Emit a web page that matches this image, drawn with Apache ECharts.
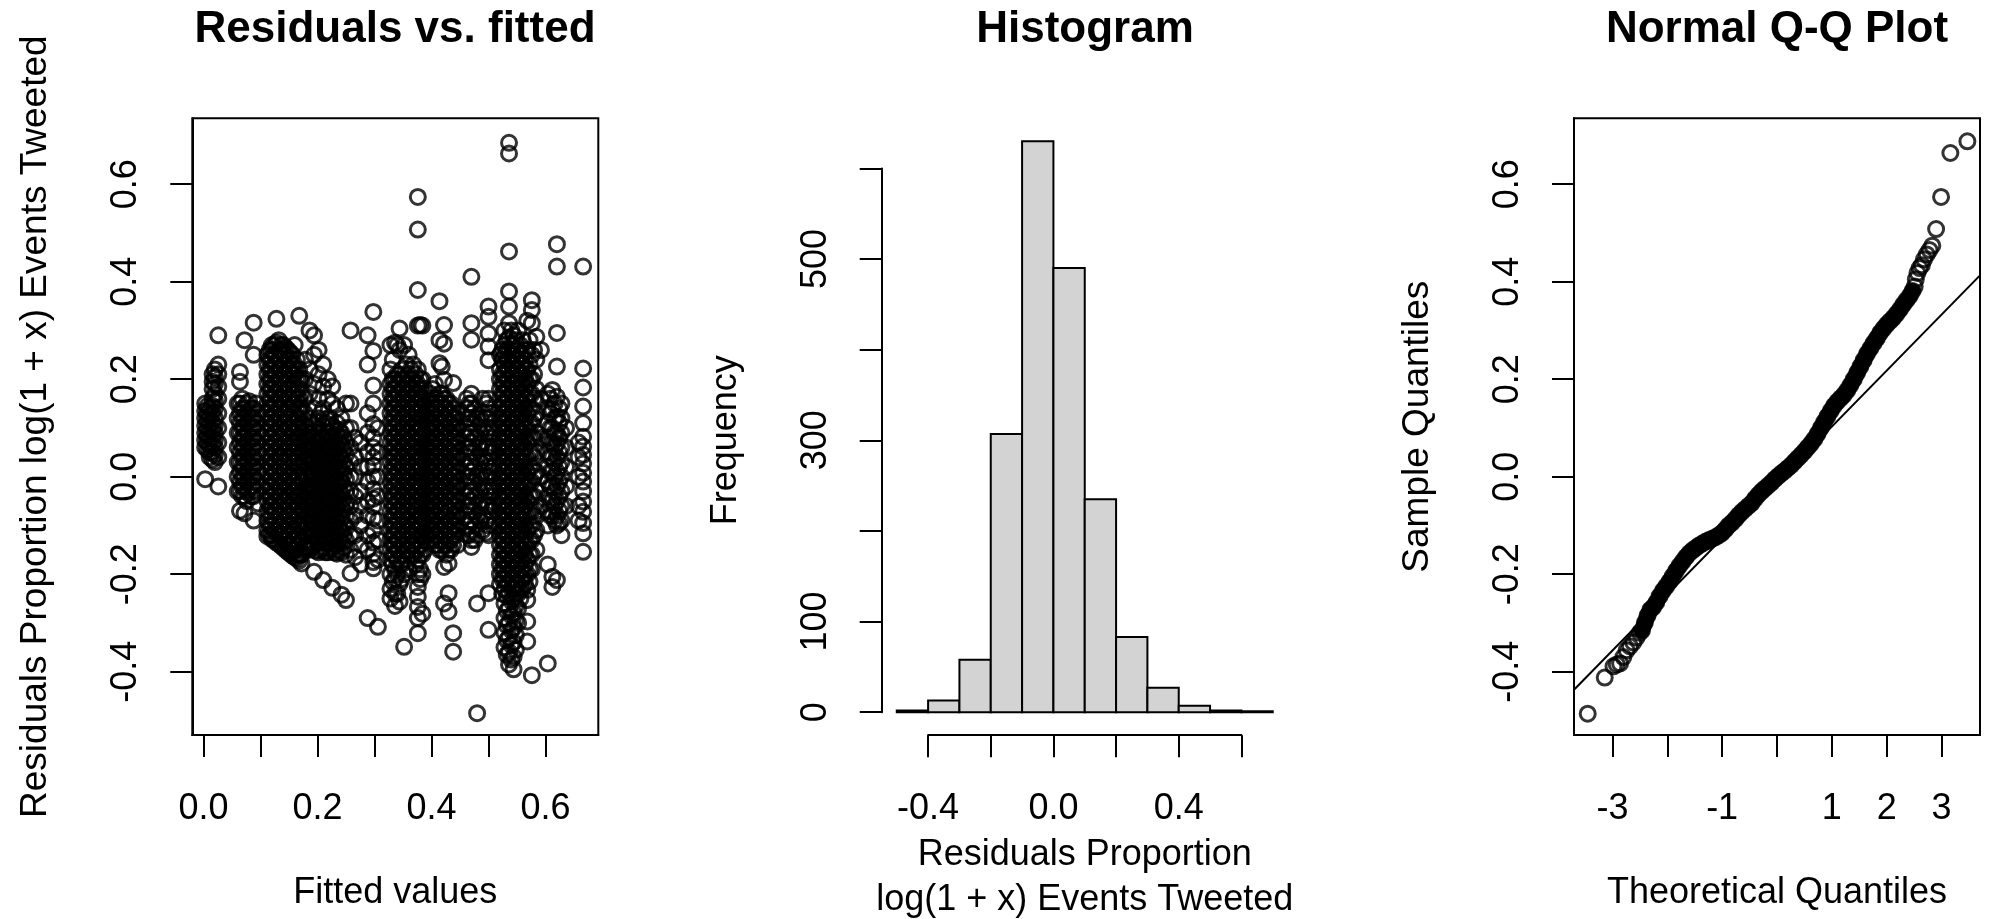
<!DOCTYPE html>
<html>
<head>
<meta charset="utf-8">
<script src="https://cdn.jsdelivr.net/npm/echarts@6/dist/echarts.min.js"></script>
<style>
  html, body { margin: 0; padding: 0; background: #fff; }
  #chart { width: 1991px; height: 919px; }
</style>
</head>
<body>
<div id="chart"></div>
<script>
const FONT = "'Liberation Sans', Arial, sans-serif";
const INK = "#000";

// residuals vs fitted, read column by column: [fitted, [residuals]]
const clusterA = [
  [0.003, [0.15, 0.135, 0.12, 0.105, 0.09, 0.075, 0.06, -0.005]],
  [0.007, [0.145, 0.13, 0.115, 0.1, 0.085, 0.07, 0.055]],
  [0.011, [0.14, 0.125, 0.11, 0.095, 0.08, 0.065, 0.05, 0.04]],
  [0.016, [0.21, 0.195, 0.18, 0.16, 0.145, 0.13, 0.11, 0.095, 0.08, 0.065, 0.05, 0.035]],
  [0.02, [0.22, 0.205, 0.19, 0.17, 0.155, 0.14, 0.12, 0.105, 0.09, 0.075, 0.06, 0.045, 0.03]],
  [0.026, [0.29, 0.23, 0.21, 0.185, 0.16, 0.13, 0.1, 0.07, 0.04, -0.02]]
];
const clusterB = [
  [0.06, [0.15, 0.12, 0.09, 0.06, 0.03, 0.0, -0.03]],
  [0.064, [0.215, 0.195, 0.15, 0.13, 0.11, 0.09, 0.07, 0.05, 0.03, 0.01, -0.01, -0.03, -0.07]],
  [0.068, [0.16, 0.14, 0.12, 0.1, 0.08, 0.06, 0.04, 0.02, 0.0, -0.02, -0.04]],
  [0.072, [0.28, 0.14, 0.12, 0.1, 0.08, 0.06, 0.04, 0.02, 0.0, -0.02, -0.04, -0.075]],
  [0.076, [0.15, 0.13, 0.11, 0.09, 0.07, 0.05, 0.03, 0.01, -0.01, -0.03, -0.05]],
  [0.08, [0.155, 0.135, 0.115, 0.095, 0.075, 0.055, 0.035, 0.015, -0.005, -0.025]],
  [0.084, [0.14, 0.12, 0.1, 0.08, 0.06, 0.04, 0.02, 0.0, -0.02, -0.04]],
  [0.088, [0.316, 0.25, 0.14, 0.12, 0.1, 0.08, 0.06, 0.04, 0.02, 0.0, -0.02, -0.04, -0.09]],
  [0.092, [0.15, 0.11, 0.07, 0.03, -0.01, -0.03]],
  [0.096, [0.13, 0.09, 0.05, 0.01, -0.055]]
];
const clusterC = [
  [0.112, [0.25, 0.23, 0.21, 0.19, 0.17, 0.15, 0.13, 0.11, 0.09, 0.07, 0.05, 0.03, 0.01, -0.01, -0.03, -0.05, -0.07, -0.09, -0.11, -0.122]],
  [0.116, [0.26, 0.24, 0.22, 0.2, 0.18, 0.16, 0.14, 0.12, 0.1, 0.08, 0.06, 0.04, 0.02, 0.0, -0.02, -0.04, -0.06, -0.08, -0.1, -0.12]],
  [0.12, [0.27, 0.26, 0.24, 0.22, 0.2, 0.18, 0.16, 0.14, 0.12, 0.1, 0.08, 0.06, 0.04, 0.02, 0.0, -0.02, -0.04, -0.06, -0.08, -0.1, -0.12, -0.128]],
  [0.124, [0.27, 0.25, 0.23, 0.21, 0.19, 0.17, 0.15, 0.13, 0.11, 0.09, 0.07, 0.05, 0.03, 0.01, -0.01, -0.03, -0.05, -0.07, -0.09, -0.11, -0.13]],
  [0.128, [0.324, 0.275, 0.25, 0.23, 0.21, 0.19, 0.17, 0.15, 0.13, 0.11, 0.09, 0.07, 0.05, 0.03, 0.01, -0.01, -0.03, -0.05, -0.07, -0.09, -0.11, -0.135]],
  [0.132, [0.28, 0.26, 0.24, 0.22, 0.2, 0.18, 0.16, 0.14, 0.12, 0.1, 0.08, 0.06, 0.04, 0.02, 0.0, -0.02, -0.04, -0.06, -0.08, -0.1, -0.12, -0.138]],
  [0.136, [0.27, 0.26, 0.24, 0.22, 0.2, 0.18, 0.16, 0.14, 0.12, 0.1, 0.08, 0.06, 0.04, 0.02, 0.0, -0.02, -0.04, -0.06, -0.08, -0.1, -0.12, -0.142]],
  [0.14, [0.27, 0.25, 0.23, 0.21, 0.19, 0.17, 0.15, 0.13, 0.11, 0.09, 0.07, 0.05, 0.03, 0.01, -0.01, -0.03, -0.05, -0.07, -0.09, -0.11, -0.13, -0.146]],
  [0.144, [0.265, 0.25, 0.23, 0.21, 0.19, 0.17, 0.15, 0.13, 0.11, 0.09, 0.07, 0.05, 0.03, 0.01, -0.01, -0.03, -0.05, -0.07, -0.09, -0.11, -0.13, -0.15]],
  [0.148, [0.26, 0.24, 0.22, 0.2, 0.18, 0.16, 0.14, 0.12, 0.1, 0.08, 0.06, 0.04, 0.02, 0.0, -0.02, -0.04, -0.06, -0.08, -0.1, -0.12, -0.14, -0.154]],
  [0.152, [0.255, 0.24, 0.22, 0.2, 0.18, 0.16, 0.14, 0.12, 0.1, 0.08, 0.06, 0.04, 0.02, 0.0, -0.02, -0.04, -0.06, -0.08, -0.1, -0.12, -0.14, -0.158]],
  [0.156, [0.25, 0.23, 0.21, 0.19, 0.17, 0.15, 0.13, 0.11, 0.09, 0.07, 0.05, 0.03, 0.01, -0.01, -0.03, -0.05, -0.07, -0.09, -0.11, -0.13, -0.15, -0.162]],
  [0.16, [0.27, 0.23, 0.21, 0.19, 0.17, 0.15, 0.13, 0.11, 0.09, 0.07, 0.05, 0.03, 0.01, -0.01, -0.03, -0.05, -0.07, -0.09, -0.11, -0.13, -0.15, -0.165]],
  [0.164, [0.24, 0.22, 0.2, 0.18, 0.16, 0.14, 0.12, 0.1, 0.08, 0.06, 0.04, 0.02, 0.0, -0.02, -0.04, -0.06, -0.08, -0.1, -0.12, -0.14, -0.16, -0.168]],
  [0.168, [0.33, 0.22, 0.2, 0.18, 0.16, 0.14, 0.12, 0.1, 0.08, 0.06, 0.04, 0.02, 0.0, -0.02, -0.04, -0.06, -0.08, -0.1, -0.12, -0.14, -0.16, -0.172]],
  [0.172, [0.2, 0.17, 0.14, 0.11, 0.08, 0.05, 0.02, -0.01, -0.04, -0.07, -0.1, -0.13, -0.16, -0.178]]
];
const clusterD = [
  [0.178, [0.24, 0.2, 0.16, 0.13, 0.105, 0.08, 0.055, 0.03, 0.005, -0.02, -0.045, -0.07, -0.095, -0.12, -0.145]],
  [0.182, [0.09, 0.07, 0.045, 0.02, -0.005, -0.03, -0.055, -0.08, -0.105, -0.13, -0.148]],
  [0.186, [0.3, 0.22, 0.17, 0.12, 0.09, 0.065, 0.04, 0.015, -0.01, -0.035, -0.06, -0.085, -0.11, -0.135, -0.15]],
  [0.19, [0.11, 0.08, 0.055, 0.03, 0.005, -0.02, -0.045, -0.07, -0.095, -0.12, -0.145]],
  [0.194, [0.29, 0.25, 0.19, 0.14, 0.105, 0.08, 0.055, 0.03, 0.005, -0.02, -0.045, -0.07, -0.095, -0.12, -0.14, -0.195]],
  [0.198, [0.1, 0.07, 0.045, 0.02, -0.005, -0.03, -0.055, -0.08, -0.105, -0.13, -0.152]],
  [0.202, [0.26, 0.21, 0.16, 0.12, 0.09, 0.065, 0.04, 0.015, -0.01, -0.035, -0.06, -0.085, -0.11, -0.135, -0.155]],
  [0.206, [0.13, 0.08, 0.055, 0.03, 0.005, -0.02, -0.045, -0.07, -0.095, -0.12, -0.15]],
  [0.21, [0.23, 0.185, 0.14, 0.105, 0.08, 0.055, 0.03, 0.005, -0.02, -0.045, -0.07, -0.095, -0.12, -0.145, -0.212]],
  [0.214, [0.11, 0.07, 0.045, 0.02, -0.005, -0.03, -0.055, -0.08, -0.105, -0.13, -0.155]],
  [0.218, [0.2, 0.16, 0.12, 0.09, 0.065, 0.04, 0.015, -0.01, -0.035, -0.06, -0.085, -0.11, -0.135, -0.155]],
  [0.222, [0.12, 0.09, 0.055, 0.03, 0.005, -0.02, -0.045, -0.07, -0.095, -0.12, -0.15]],
  [0.226, [0.185, 0.15, 0.105, 0.08, 0.055, 0.03, 0.005, -0.02, -0.045, -0.07, -0.095, -0.12, -0.145, -0.228]],
  [0.23, [0.1, 0.07, 0.045, 0.02, -0.005, -0.03, -0.055, -0.08, -0.105, -0.13, -0.155]],
  [0.234, [0.14, 0.11, 0.085, 0.06, 0.035, 0.01, -0.015, -0.04, -0.065, -0.09, -0.115, -0.14, -0.158]],
  [0.238, [0.095, 0.07, 0.045, 0.02, -0.005, -0.03, -0.055, -0.08, -0.105, -0.13, -0.15]],
  [0.242, [0.12, 0.09, 0.065, 0.04, 0.015, -0.01, -0.035, -0.06, -0.085, -0.11, -0.135, -0.155, -0.242]],
  [0.246, [0.08, 0.055, 0.03, 0.005, -0.02, -0.045, -0.07, -0.095, -0.12, -0.145]],
  [0.25, [0.15, 0.1, 0.07, 0.045, 0.02, -0.005, -0.03, -0.055, -0.08, -0.105, -0.13, -0.16, -0.253]],
  [0.258, [0.3, 0.15, 0.1, 0.06, 0.03, 0.0, -0.03, -0.06, -0.09, -0.12, -0.15, -0.198]],
  [0.266, [0.08, 0.04, 0.0, -0.04, -0.08, -0.12, -0.165]],
  [0.276, [0.07, 0.02, -0.03, -0.06, -0.1, -0.14, -0.18]],
  [0.288, [0.29, 0.23, 0.13, 0.09, 0.05, 0.02, -0.01, -0.05, -0.08, -0.12, -0.15, -0.29]],
  [0.298, [0.338, 0.258, 0.187, 0.15, 0.108, 0.08, 0.06, 0.04, 0.023, 0.0, -0.025, -0.045, -0.061, -0.085, -0.11, -0.135, -0.158, -0.175, -0.188]],
  [0.306, [0.1, 0.05, 0.0, -0.04, -0.09, -0.13, -0.17, -0.308]]
];
const clusterE = [
  [0.328, [0.27, 0.22, 0.19, 0.17, 0.15, 0.13, 0.11, 0.09, 0.07, 0.05, 0.03, 0.01, -0.01, -0.03, -0.05, -0.07, -0.09, -0.11, -0.13, -0.15, -0.17, -0.2, -0.23, -0.25]],
  [0.332, [0.24, 0.2, 0.18, 0.16, 0.14, 0.12, 0.1, 0.08, 0.06, 0.04, 0.02, 0.0, -0.02, -0.04, -0.06, -0.08, -0.1, -0.12, -0.14, -0.16, -0.18, -0.215]],
  [0.336, [0.275, 0.2, 0.18, 0.16, 0.14, 0.12, 0.1, 0.08, 0.06, 0.04, 0.02, 0.0, -0.02, -0.04, -0.06, -0.08, -0.1, -0.12, -0.14, -0.16, -0.19, -0.21, -0.24, -0.265]],
  [0.34, [0.27, 0.21, 0.19, 0.17, 0.15, 0.13, 0.11, 0.09, 0.07, 0.05, 0.03, 0.01, -0.01, -0.03, -0.05, -0.07, -0.09, -0.11, -0.13, -0.15, -0.17, -0.2, -0.24]],
  [0.344, [0.304, 0.26, 0.21, 0.19, 0.17, 0.15, 0.13, 0.11, 0.09, 0.07, 0.05, 0.03, 0.01, -0.01, -0.03, -0.05, -0.07, -0.09, -0.11, -0.13, -0.15, -0.18, -0.22, -0.256]],
  [0.348, [0.22, 0.2, 0.18, 0.16, 0.14, 0.12, 0.1, 0.08, 0.06, 0.04, 0.02, 0.0, -0.02, -0.04, -0.06, -0.08, -0.1, -0.12, -0.14, -0.16, -0.18, -0.21]],
  [0.352, [0.27, 0.2, 0.18, 0.16, 0.14, 0.12, 0.1, 0.08, 0.06, 0.04, 0.02, 0.0, -0.02, -0.04, -0.06, -0.08, -0.1, -0.12, -0.14, -0.16, -0.2, -0.349]],
  [0.356, [0.23, 0.19, 0.17, 0.15, 0.13, 0.11, 0.09, 0.07, 0.05, 0.03, 0.01, -0.01, -0.03, -0.05, -0.07, -0.09, -0.11, -0.13, -0.15, -0.17]],
  [0.36, [0.25, 0.21, 0.19, 0.17, 0.15, 0.13, 0.11, 0.09, 0.07, 0.05, 0.03, 0.01, -0.01, -0.03, -0.05, -0.07, -0.09, -0.11, -0.13, -0.15, -0.19]],
  [0.364, [0.22, 0.2, 0.18, 0.16, 0.14, 0.12, 0.1, 0.08, 0.06, 0.04, 0.02, 0.0, -0.02, -0.04, -0.06, -0.08, -0.1, -0.12, -0.14, -0.16]],
  [0.368, [0.23, 0.2, 0.18, 0.16, 0.14, 0.12, 0.1, 0.08, 0.06, 0.04, 0.02, 0.0, -0.02, -0.04, -0.06, -0.08, -0.1, -0.12, -0.14, -0.16]],
  [0.372, [0.21, 0.19, 0.17, 0.15, 0.13, 0.11, 0.09, 0.07, 0.05, 0.03, 0.01, -0.01, -0.03, -0.05, -0.07, -0.09, -0.11, -0.13, -0.15, -0.18]],
  [0.376, [0.574, 0.507, 0.383, 0.31, 0.22, 0.19, 0.17, 0.15, 0.13, 0.11, 0.09, 0.07, 0.05, 0.03, 0.01, -0.01, -0.03, -0.05, -0.07, -0.09, -0.11, -0.13, -0.15, -0.17, -0.2, -0.226, -0.246, -0.267, -0.29, -0.321]],
  [0.38, [0.311, 0.2, 0.18, 0.16, 0.14, 0.12, 0.1, 0.08, 0.06, 0.04, 0.02, 0.0, -0.02, -0.04, -0.06, -0.08, -0.1, -0.12, -0.14, -0.16, -0.19, -0.21]],
  [0.384, [0.31, 0.2, 0.16, 0.12, 0.08, 0.04, 0.0, -0.04, -0.08, -0.12, -0.16, -0.2, -0.281]],
  [0.388, [0.18, 0.15, 0.12, 0.09, 0.06, 0.03, 0.0, -0.03, -0.06, -0.09, -0.12, -0.15]]
];
const clusterF = [
  [0.394, [0.16, 0.14, 0.12, 0.1, 0.08, 0.06, 0.04, 0.02, 0.0, -0.02, -0.04, -0.06, -0.08, -0.1, -0.12]],
  [0.398, [0.17, 0.15, 0.13, 0.11, 0.09, 0.07, 0.05, 0.03, 0.01, -0.01, -0.03, -0.05, -0.07, -0.09, -0.11, -0.13]],
  [0.402, [0.18, 0.15, 0.13, 0.11, 0.09, 0.07, 0.05, 0.03, 0.01, -0.01, -0.03, -0.05, -0.07, -0.09, -0.11, -0.13]],
  [0.406, [0.19, 0.16, 0.14, 0.12, 0.1, 0.08, 0.06, 0.04, 0.02, 0.0, -0.02, -0.04, -0.06, -0.08, -0.1, -0.12, -0.14]],
  [0.41, [0.16, 0.14, 0.12, 0.1, 0.08, 0.06, 0.04, 0.02, 0.0, -0.02, -0.04, -0.06, -0.08, -0.1, -0.12, -0.14]],
  [0.414, [0.36, 0.28, 0.233, 0.17, 0.15, 0.13, 0.11, 0.09, 0.07, 0.05, 0.03, 0.01, -0.01, -0.03, -0.05, -0.07, -0.09, -0.11, -0.13, -0.15]],
  [0.418, [0.226, 0.17, 0.15, 0.13, 0.11, 0.09, 0.07, 0.05, 0.03, 0.01, -0.01, -0.03, -0.05, -0.07, -0.09, -0.11, -0.13, -0.15]],
  [0.422, [0.311, 0.273, 0.199, 0.16, 0.14, 0.12, 0.1, 0.08, 0.06, 0.04, 0.02, 0.0, -0.02, -0.04, -0.06, -0.08, -0.1, -0.12, -0.14, -0.185, -0.26]],
  [0.426, [0.16, 0.14, 0.12, 0.1, 0.08, 0.06, 0.04, 0.02, 0.0, -0.02, -0.04, -0.06, -0.08, -0.1, -0.12, -0.14, -0.16]],
  [0.43, [0.15, 0.13, 0.11, 0.09, 0.07, 0.05, 0.03, 0.01, -0.01, -0.03, -0.05, -0.07, -0.09, -0.11, -0.13, -0.15, -0.178, -0.239, -0.277]],
  [0.434, [0.15, 0.13, 0.11, 0.09, 0.07, 0.05, 0.03, 0.01, -0.01, -0.03, -0.05, -0.07, -0.09, -0.11, -0.13, -0.15]],
  [0.438, [0.192, 0.14, 0.12, 0.1, 0.08, 0.06, 0.04, 0.02, 0.0, -0.02, -0.04, -0.06, -0.08, -0.1, -0.12, -0.14, -0.321, -0.359]],
  [0.442, [0.12, 0.1, 0.08, 0.06, 0.04, 0.02, 0.0, -0.02, -0.04, -0.06, -0.08, -0.1, -0.12]],
  [0.446, [0.13, 0.1, 0.07, 0.04, 0.01, -0.02, -0.05, -0.08, -0.11, -0.14]]
];
const clusterG = [
  [0.462, [0.16, 0.14, 0.12, 0.1, 0.08, 0.06, 0.04, 0.02, 0.0, -0.02, -0.04, -0.06, -0.08, -0.1, -0.12]],
  [0.466, [0.15, 0.12, 0.09, 0.06, 0.03, 0.0, -0.03, -0.06, -0.09, -0.12]],
  [0.47, [0.41, 0.315, 0.281, 0.17, 0.15, 0.13, 0.11, 0.09, 0.07, 0.05, 0.03, 0.01, -0.01, -0.03, -0.05, -0.07, -0.09, -0.11, -0.13, -0.144]],
  [0.476, [0.14, 0.11, 0.08, 0.05, 0.02, -0.01, -0.04, -0.07, -0.1, -0.13]],
  [0.48, [0.12, 0.08, 0.04, 0.0, -0.04, -0.08, -0.12, -0.26, -0.485]],
  [0.486, [0.12, 0.09, 0.06, 0.03, 0.0, -0.03, -0.06, -0.09]],
  [0.49, [0.16, 0.13, 0.1, 0.07, 0.04, 0.01, -0.02, -0.05, -0.08, -0.11]],
  [0.496, [0.15, 0.12, 0.09, 0.06, 0.03, 0.0, -0.03, -0.06, -0.09, -0.115]],
  [0.5, [0.349, 0.328, 0.294, 0.267, 0.239, 0.16, 0.14, 0.12, 0.1, 0.08, 0.06, 0.04, 0.02, 0.0, -0.02, -0.04, -0.06, -0.08, -0.1, -0.12, -0.239, -0.314]],
  [0.504, [0.13, 0.09, 0.05, 0.01, -0.03, -0.07]],
  [0.508, [0.1, 0.06, 0.02, -0.02, -0.06, -0.1]]
];
const clusterH = [
  [0.52, [0.25, 0.22, 0.2, 0.18, 0.16, 0.14, 0.12, 0.1, 0.08, 0.06, 0.04, 0.02, 0.0, -0.02, -0.04, -0.06, -0.08, -0.1, -0.12, -0.14, -0.16, -0.18, -0.2, -0.22]],
  [0.524, [0.26, 0.24, 0.21, 0.19, 0.17, 0.15, 0.13, 0.11, 0.09, 0.07, 0.05, 0.03, 0.01, -0.01, -0.03, -0.05, -0.07, -0.09, -0.11, -0.13, -0.15, -0.17, -0.19, -0.21, -0.24]],
  [0.528, [0.3, 0.27, 0.25, 0.23, 0.21, 0.19, 0.17, 0.15, 0.13, 0.11, 0.09, 0.07, 0.05, 0.03, 0.01, -0.01, -0.03, -0.05, -0.07, -0.09, -0.11, -0.13, -0.15, -0.17, -0.19, -0.21, -0.23, -0.26, -0.29, -0.32, -0.35]],
  [0.532, [0.28, 0.26, 0.24, 0.22, 0.2, 0.18, 0.16, 0.14, 0.12, 0.1, 0.08, 0.06, 0.04, 0.02, 0.0, -0.02, -0.04, -0.06, -0.08, -0.1, -0.12, -0.14, -0.16, -0.18, -0.2, -0.22, -0.245, -0.275, -0.305, -0.335, -0.365]],
  [0.536, [0.685, 0.663, 0.462, 0.38, 0.349, 0.315, 0.285, 0.26, 0.24, 0.22, 0.2, 0.18, 0.16, 0.14, 0.12, 0.1, 0.08, 0.06, 0.04, 0.02, 0.0, -0.02, -0.04, -0.06, -0.08, -0.1, -0.12, -0.14, -0.16, -0.18, -0.2, -0.22, -0.24, -0.27, -0.3, -0.33, -0.36, -0.385]],
  [0.54, [0.3, 0.27, 0.25, 0.23, 0.21, 0.19, 0.17, 0.15, 0.13, 0.11, 0.09, 0.07, 0.05, 0.03, 0.01, -0.01, -0.03, -0.05, -0.07, -0.09, -0.11, -0.13, -0.15, -0.17, -0.19, -0.21, -0.23, -0.255, -0.285, -0.315, -0.345, -0.375]],
  [0.544, [0.29, 0.27, 0.25, 0.23, 0.21, 0.19, 0.17, 0.15, 0.13, 0.11, 0.09, 0.07, 0.05, 0.03, 0.01, -0.01, -0.03, -0.05, -0.07, -0.09, -0.11, -0.13, -0.15, -0.17, -0.19, -0.21, -0.23, -0.25, -0.28, -0.31, -0.34, -0.37, -0.395]],
  [0.548, [0.28, 0.26, 0.24, 0.22, 0.2, 0.18, 0.16, 0.14, 0.12, 0.1, 0.08, 0.06, 0.04, 0.02, 0.0, -0.02, -0.04, -0.06, -0.08, -0.1, -0.12, -0.14, -0.16, -0.18, -0.2, -0.22, -0.24, -0.265, -0.295, -0.325, -0.355]],
  [0.552, [0.3, 0.26, 0.24, 0.22, 0.2, 0.18, 0.16, 0.14, 0.12, 0.1, 0.08, 0.06, 0.04, 0.02, 0.0, -0.02, -0.04, -0.06, -0.08, -0.1, -0.12, -0.14, -0.16, -0.18, -0.2, -0.22, -0.24, -0.27, -0.3]],
  [0.556, [0.27, 0.25, 0.23, 0.21, 0.19, 0.17, 0.15, 0.13, 0.11, 0.09, 0.07, 0.05, 0.03, 0.01, -0.01, -0.03, -0.05, -0.07, -0.09, -0.11, -0.13, -0.15, -0.17, -0.19, -0.21, -0.23, -0.25]],
  [0.56, [0.28, 0.25, 0.23, 0.21, 0.19, 0.17, 0.15, 0.13, 0.11, 0.09, 0.07, 0.05, 0.03, 0.01, -0.01, -0.03, -0.05, -0.07, -0.09, -0.11, -0.13, -0.15, -0.17, -0.19, -0.21, -0.23]],
  [0.564, [0.26, 0.24, 0.22, 0.2, 0.18, 0.16, 0.14, 0.12, 0.1, 0.08, 0.06, 0.04, 0.02, 0.0, -0.02, -0.04, -0.06, -0.08, -0.1, -0.12, -0.14, -0.16, -0.18, -0.2, -0.22]],
  [0.568, [0.32, 0.26, 0.22, 0.19, 0.16, 0.13, 0.1, 0.07, 0.04, 0.01, -0.02, -0.05, -0.08, -0.11, -0.14, -0.17, -0.2, -0.232, -0.253, -0.297, -0.338]],
  [0.572, [0.28, 0.23, 0.2, 0.17, 0.14, 0.11, 0.08, 0.05, 0.02, -0.01, -0.04, -0.07, -0.1, -0.13, -0.16, -0.19, -0.215]],
  [0.576, [0.362, 0.342, 0.315, 0.25, 0.2, 0.17, 0.14, 0.11, 0.08, 0.05, 0.02, -0.01, -0.04, -0.07, -0.1, -0.13, -0.16, -0.19, -0.407]],
  [0.58, [0.26, 0.21, 0.16, 0.12, 0.08, 0.04, 0.0, -0.04, -0.08, -0.12]],
  [0.584, [0.287, 0.24, 0.18, 0.13, 0.09, 0.05, 0.01, -0.03, -0.07, -0.11, -0.15]],
  [0.592, [0.26, 0.16, 0.08, 0.0, -0.06]]
];
const clusterI = [
  [0.604, [0.17, 0.14, 0.11, 0.08, 0.05, 0.02, -0.01, -0.04, -0.07, -0.1, -0.18, -0.383]],
  [0.608, [0.16, 0.13, 0.1, 0.07, 0.04, 0.01, -0.02, -0.05, -0.08]],
  [0.612, [0.178, 0.137, 0.1, 0.07, 0.04, 0.01, -0.02, -0.05, -0.08, -0.205, -0.226]],
  [0.616, [0.15, 0.12, 0.09, 0.06, 0.03, 0.0, -0.03, -0.06, -0.09]],
  [0.62, [0.477, 0.431, 0.295, 0.226, 0.164, 0.123, 0.089, 0.068, 0.04, 0.01, -0.02, -0.05, -0.08, -0.1, -0.212]],
  [0.624, [0.14, 0.11, 0.08, 0.05, 0.02, -0.01, -0.04, -0.07, -0.095]],
  [0.628, [0.15, 0.12, 0.09, 0.06, 0.03, 0.0, -0.03, -0.06, -0.09, -0.12]],
  [0.636, [0.1, 0.06, 0.02, -0.02, -0.06]]
];
const clusterJ = [
  [0.658, [0.07, 0.04, 0.0, -0.06, -0.09]],
  [0.666, [0.431, 0.222, 0.183, 0.144, 0.11, 0.082, 0.062, 0.045, 0.027, 0.008, -0.01, -0.03, -0.051, -0.072, -0.095, -0.116, -0.154]]
];

// histogram
const histBreaks = [-0.5, -0.4, -0.3, -0.2, -0.1, 0.0, 0.1, 0.2, 0.3, 0.4, 0.5, 0.6, 0.7];
const histCounts = [2, 13, 58, 307, 630, 490, 235, 83, 27, 7, 2, 1];

// normal q-q
const qqTheoretical = [
  -3.45, -3.14, -2.98, -2.92, -2.86, -2.8, -2.74, -2.68, -2.62, -2.56, -2.5, -2.46, -2.41, -2.36,
  -2.31, -2.26, -2.2, -2.14, -2.08, -2.02, -1.96, -1.9, -1.84, -1.78, -1.72, -1.66, -1.6, -1.54,
  -1.48, -1.42, -1.36, -1.3, -1.24, -1.18, -1.12, -1.06, -1.0, -0.94, -0.88, -0.82, -0.76, -0.7,
  -0.64, -0.58, -0.52, -0.46, -0.4, -0.34, -0.28, -0.22, -0.16, -0.1, -0.04, 0.02, 0.08, 0.14,
  0.2, 0.26, 0.32, 0.38, 0.44, 0.5, 0.56, 0.62, 0.68, 0.74, 0.8, 0.86, 0.92, 0.98, 1.04, 1.1,
  1.16, 1.22, 1.28, 1.34, 1.4, 1.46, 1.52, 1.58, 1.64, 1.7, 1.76, 1.82, 1.88, 1.94, 2.0, 2.06,
  2.12, 2.18, 2.24, 2.3, 2.36, 2.42, 2.47, 2.51, 2.53, 2.56, 2.6, 2.64, 2.68, 2.73, 2.78, 2.83,
  2.9, 2.99, 3.16, 3.47
];
const qqSample = [
  -0.486, -0.412, -0.389, -0.385, -0.383, -0.37, -0.356, -0.348, -0.34, -0.33, -0.32, -0.315, -0.3, -0.285,
  -0.273, -0.268, -0.258, -0.245, -0.234, -0.225, -0.215, -0.204, -0.193, -0.183, -0.174, -0.165, -0.157, -0.151,
  -0.146, -0.141, -0.137, -0.133, -0.13, -0.127, -0.124, -0.12, -0.115, -0.108, -0.1, -0.094, -0.087, -0.079,
  -0.072, -0.066, -0.06, -0.054, -0.045, -0.037, -0.03, -0.024, -0.018, -0.012, -0.005, 0.001, 0.007, 0.012,
  0.018, 0.024, 0.031, 0.038, 0.045, 0.052, 0.06, 0.068, 0.077, 0.088, 0.1, 0.112, 0.124, 0.135, 0.146, 0.154,
  0.161, 0.168, 0.177, 0.188, 0.2, 0.213, 0.226, 0.239, 0.252, 0.263, 0.274, 0.284, 0.295, 0.304, 0.312, 0.319,
  0.326, 0.334, 0.343, 0.353, 0.362, 0.371, 0.381, 0.39, 0.405, 0.418, 0.428, 0.434, 0.446, 0.456, 0.465, 0.474,
  0.508, 0.574, 0.664, 0.688
];
// stretch of the q-q points where the circles overplot into a solid band
const qqBandRange = [-2.46, 2.47];
const qqLineX = [-3.7, 3.7];
const qqLineY = [-0.437, 0.413];

// ticks and labels
const residTicks = [-0.4, -0.2, 0.0, 0.2, 0.4, 0.6];
const fittedTicks = [0.0, 0.1, 0.2, 0.3, 0.4, 0.5, 0.6];
const fittedLabels = [0.0, 0.2, 0.4, 0.6];
const freqLabels = [0, 100, 300, 500];
const histXLabels = [-0.4, 0.0, 0.4];
const theoTicks = [-3, -2, -1, 0, 1, 2, 3];
const theoLabels = [-3, -1, 1, 2, 3];

const scatterData = [];
[clusterA, clusterB, clusterC, clusterD, clusterE, clusterF, clusterG, clusterH, clusterI, clusterJ]
  .forEach(cl => cl.forEach(([fx, rs]) => rs.forEach(r => scatterData.push([fx, r]))));

const histData = histCounts.map((c, i) => [histBreaks[i], histBreaks[i + 1], c]);
const qqData = qqTheoretical.map((t, i) => [t, qqSample[i]]);
const qqBand = qqData.filter(([t]) => t >= qqBandRange[0] && t <= qqBandRange[1]);
const qqLineData = qqLineX.map((x, i) => [x, qqLineY[i]]);

const chart = echarts.init(document.getElementById("chart"), null, { renderer: "canvas" });

const labelStyle = { fontSize: 36, color: INK, fontFamily: FONT };
const nameStyle = { fontSize: 36, lineHeight: 45, color: INK, fontFamily: FONT };
const tickStyle = { show: true, length: 22, lineStyle: { color: INK, width: 2 } };
const lineStyle = { show: true, onZero: false, lineStyle: { color: INK, width: 2 } };
const ringStyle = { color: "rgba(0,0,0,0)", borderColor: INK, borderWidth: 3 };

function titleAt(text, x) {
  return {
    text, left: x, top: 8, textAlign: "center", padding: 0,
    textStyle: { fontSize: 44, fontWeight: "bold", color: INK, fontFamily: FONT }
  };
}

function residAxis(grid, name) {
  return {
    gridIndex: grid, type: "value", min: -0.5298, max: 0.7352,
    axisLine: lineStyle, splitLine: { show: false },
    axisTick: { ...tickStyle, customValues: residTicks },
    axisLabel: { ...labelStyle, customValues: residTicks, rotate: 90, margin: 48, formatter: v => v.toFixed(1) },
    name, nameLocation: "middle", nameRotate: 90, nameGap: 134,
    nameTextStyle: { ...nameStyle, fontSize: 37 }
  };
}

chart.setOption({
  animation: false,
  backgroundColor: "#fff",
  title: [
    titleAt("Residuals vs. fitted", 395),
    titleAt("Histogram", 1085),
    titleAt("Normal Q-Q Plot", 1777)
  ],
  grid: [
    { left: 192.3, top: 118.3, width: 406, height: 616.7, show: true, borderColor: INK, borderWidth: 2, outerBoundsMode: "none" },
    { left: 928.1, top: 168.4, width: 313.3, height: 543.8, show: false, outerBoundsMode: "none" },
    { left: 1574, top: 118.3, width: 406, height: 616.7, show: true, borderColor: INK, borderWidth: 2, outerBoundsMode: "none" }
  ],
  xAxis: [
    {
      gridIndex: 0, type: "value", min: -0.0196, max: 0.6926,
      axisLine: lineStyle, splitLine: { show: false },
      axisTick: { ...tickStyle, customValues: fittedTicks },
      axisLabel: { ...labelStyle, customValues: fittedLabels, margin: 56, formatter: v => v.toFixed(1) },
      name: "Fitted values", nameLocation: "middle", nameGap: 136, nameTextStyle: nameStyle
    },
    {
      gridIndex: 1, type: "value", min: -0.4, max: 0.6, interval: 0.2, offset: 23,
      axisLine: lineStyle, splitLine: { show: false },
      axisTick: tickStyle,
      axisLabel: { ...labelStyle, customValues: histXLabels, margin: 56, formatter: v => v.toFixed(1) },
      name: "Residuals Proportion\nlog(1 + x) Events Tweeted", nameLocation: "middle", nameGap: 81,
      nameTextStyle: nameStyle
    },
    {
      gridIndex: 2, type: "value", min: -3.7, max: 3.7,
      axisLine: lineStyle, splitLine: { show: false },
      axisTick: { ...tickStyle, customValues: theoTicks },
      axisLabel: { ...labelStyle, customValues: theoLabels, margin: 56, formatter: v => String(v) },
      name: "Theoretical Quantiles", nameLocation: "middle", nameGap: 136, nameTextStyle: nameStyle
    }
  ],
  yAxis: [
    residAxis(0, "Residuals Proportion log(1 + x) Events Tweeted"),
    {
      gridIndex: 1, type: "value", min: 0, max: 600, interval: 100, offset: 46.4,
      axisLine: lineStyle, splitLine: { show: false },
      axisTick: tickStyle,
      axisLabel: { ...labelStyle, customValues: freqLabels, rotate: 90, margin: 48, formatter: v => String(v) },
      name: "Frequency", nameLocation: "middle", nameRotate: 90, nameGap: 133, nameTextStyle: nameStyle
    },
    residAxis(2, "Sample Quantiles")
  ],
  series: [
    {
      type: "scatter", xAxisIndex: 0, yAxisIndex: 0, data: scatterData,
      symbol: "circle", symbolSize: 15, itemStyle: ringStyle, emphasis: { disabled: true }
    },
    {
      type: "custom", xAxisIndex: 1, yAxisIndex: 1, data: histData, clip: false,
      encode: { x: [0, 1], y: 2 },
      renderItem: (params, api) => {
        const top = api.coord([api.value(0), api.value(2)]);
        const base = api.coord([api.value(1), 0]);
        return {
          type: "rect",
          shape: { x: top[0], y: top[1], width: base[0] - top[0], height: base[1] - top[1] },
          style: { fill: "#d3d3d3", stroke: INK, lineWidth: 2 }
        };
      }
    },
    {
      type: "line", xAxisIndex: 2, yAxisIndex: 2, data: qqBand, symbol: "none",
      lineStyle: { color: INK, width: 16, cap: "round", join: "round" }, emphasis: { disabled: true }
    },
    {
      type: "scatter", xAxisIndex: 2, yAxisIndex: 2, data: qqData,
      symbol: "circle", symbolSize: 15, itemStyle: ringStyle, emphasis: { disabled: true }
    },
    {
      type: "line", xAxisIndex: 2, yAxisIndex: 2, data: qqLineData, symbol: "none",
      lineStyle: { color: INK, width: 2 }, emphasis: { disabled: true }
    }
  ]
});
</script>
</body>
</html>
